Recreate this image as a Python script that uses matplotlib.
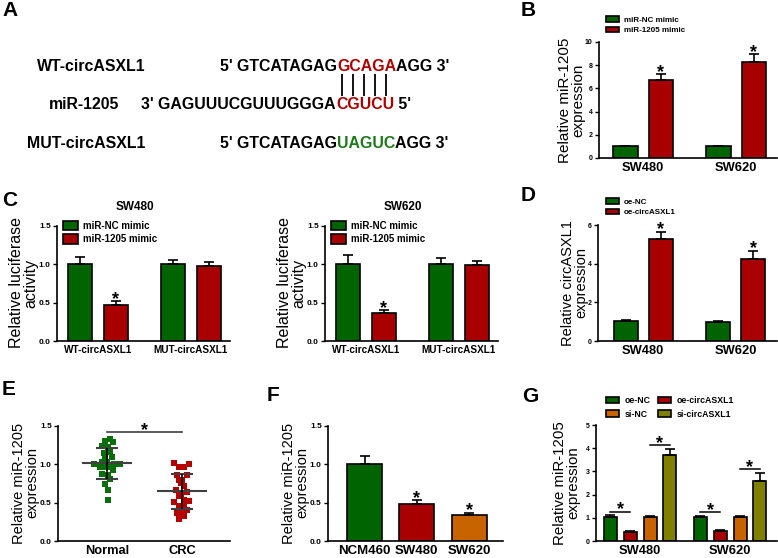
import numpy as np
import matplotlib
matplotlib.use("Agg")
import matplotlib.pyplot as plt
from matplotlib.ticker import FormatStrFormatter

plt.rcParams["font.family"] = ["Liberation Sans", "DejaVu Sans"]

# ---- data ----
b_groups = ["SW480", "SW620"]
b_nc = [1.0, 1.0]
b_nc_err = [0.06, 0.05]
b_mimic = [6.7, 8.3]
b_mimic_err = [0.52, 0.63]

c_groups = ["WT-circASXL1", "MUT-circASXL1"]
c480_nc = [1.0, 1.0]
c480_nc_err = [0.10, 0.06]
c480_mimic = [0.47, 0.98]
c480_mimic_err = [0.05, 0.05]
c620_nc = [1.0, 1.0]
c620_nc_err = [0.12, 0.08]
c620_mimic = [0.36, 0.99]
c620_mimic_err = [0.04, 0.05]

d_groups = ["SW480", "SW620"]
d_nc = [1.02, 1.0]
d_nc_err = [0.08, 0.05]
d_oe = [5.28, 4.24]
d_oe_err = [0.38, 0.43]

e_normal = [1.33, 1.31, 1.29, 1.24, 1.23, 1.15, 1.16, 1.09, 1.09, 1.01, 1.03, 1.03,
            1.01, 1.01, 0.97, 0.96, 0.97, 0.92, 0.88, 0.86, 0.81, 0.75, 0.66, 0.53]
e_normal_jitter = [0.04, -0.027, 0.076, -0.062, 0.01, -0.036, 0.04, 0.071, -0.018, -0.169,
                   -0.062, -0.004, 0.093, 0.173, -0.093, -0.018, 0.04, 0.076, -0.062, 0.01,
                   0.04, -0.027, 0.01, 0.01]
e_crc = [1.02, 0.97, 0.97, 1.01, 0.86, 0.80, 0.86, 0.79, 0.76, 0.72, 0.67, 0.64,
         0.59, 0.61, 0.51, 0.53, 0.52, 0.46, 0.46, 0.41, 0.37, 0.37, 0.33, 0.29]
e_crc_jitter = [-0.107, -0.04, 0.031, 0.098, -0.071, 0.0, 0.062, -0.036, -0.013, 0.027,
                -0.08, 0.062, -0.04, -0.013, -0.102, 0.027, 0.098, -0.036, 0.027, 0.062,
                -0.071, 0.0, 0.031, -0.04]

f_groups = ["NCM460", "SW480", "SW620"]
f_vals = [1.0, 0.48, 0.34]
f_err = [0.11, 0.05, 0.03]

g_groups = ["SW480", "SW620"]
g_oe_nc = [1.02, 1.02]
g_oe_nc_err = [0.08, 0.07]
g_oe_circ = [0.38, 0.45]
g_oe_circ_err = [0.05, 0.04]
g_si_nc = [1.02, 1.02]
g_si_nc_err = [0.05, 0.07]
g_si_circ = [3.7, 2.6]
g_si_circ_err = [0.28, 0.33]

GREEN = "#006400"
RED = "#a80000"
ORANGE = "#c86400"
OLIVE = "#7f7f00"

W, H = 778, 558
fig = plt.figure(figsize=(W / 100, H / 100), dpi=100)

ov = fig.add_axes([0, 0, 1, 1])
ov.set_xlim(0, W)
ov.set_ylim(H, 0)
ov.axis("off")


def px_axes(l, t, r, b):
    ax = fig.add_axes([l / W, 1 - b / H, (r - l) / W, (b - t) / H])
    ax.patch.set_alpha(0)
    return ax


def style(ax, ymax, step, fmt, fs):
    ax.set_ylim(0, ymax)
    ax.set_yticks(np.arange(0, ymax + step / 2, step))
    ax.yaxis.set_major_formatter(FormatStrFormatter(fmt))
    for s in ["top", "right"]:
        ax.spines[s].set_visible(False)
    for s in ["left", "bottom"]:
        ax.spines[s].set_linewidth(1.2)
    ax.tick_params(axis="y", length=3, width=1, labelsize=fs, pad=1.5)
    ax.tick_params(axis="x", length=0, pad=3)
    for t in ax.get_yticklabels():
        t.set_fontweight("bold")


ERR = dict(ecolor="black", elinewidth=1.2, capsize=3.5, capthick=1.2)


def bars(ax, x, vals, errs, color, label=None, width=0.26):
    ax.bar(x, vals, width, yerr=[np.zeros(len(vals)), errs], color=color,
           edgecolor="black", linewidth=1.2, error_kw=ERR, label=label)


def star(ax, x, y, fs=13):
    ax.annotate("*", xy=(x, y), xytext=(0, -2), textcoords="offset points",
                ha="center", va="baseline", fontsize=fs, fontweight="bold",
                annotation_clip=False)


def legend(ax, x, y, fs, hl, hh, ls, ncol=1):
    ax.legend(loc="upper left", bbox_to_anchor=(x / W, 1 - y / H),
              bbox_transform=fig.transFigure, frameon=False,
              prop=dict(weight="bold", size=fs), handlelength=hl, handleheight=hh,
              handletextpad=0.6, labelspacing=ls, borderpad=0, borderaxespad=0,
              ncol=ncol, columnspacing=1.0)


def ylabel(x, y, txt, fs):
    ov.text(x, y, txt, rotation=90, ha="center", va="center", fontsize=fs,
            linespacing=0.95, multialignment="center")


LET = dict(fontsize=15, fontweight="bold", va="top", ha="left")
for letter, lx, ly in [("A", 2, 1), ("B", 521, 1), ("C", 2, 191), ("D", 521, 186),
                       ("E", 2, 380), ("F", 267, 386), ("G", 522, 387)]:
    ov.text(lx, ly, letter, **LET)

# ---- A ----
fa = dict(fontsize=11.4, fontweight="bold", va="baseline")
ov.text(91, 71, "WT-circASXL1", ha="center", **fa)
ov.text(84, 109, "miR-1205", ha="center", **fa)
ov.text(86, 148, "MUT-circASXL1", ha="center", **fa)

ov.text(337, 71, "5' GTCATAGAG", ha="right", **fa)
t = ov.text(337, 71, "GCAGA", ha="left", color="#b00000", **fa)
ov.annotate("AGG 3'", xy=(1, 0), xycoords=t, ha="left", va="bottom",
            fontsize=11.4, fontweight="bold")

ov.text(336, 109, "3' GAGUUUCGUUUGGGA", ha="right", **fa)
t = ov.text(336, 109, "CGUCU", ha="left", color="#b00000", **fa)
ov.annotate(" 5'", xy=(1, 0), xycoords=t, ha="left", va="bottom",
            fontsize=11.4, fontweight="bold")

ov.text(337, 148, "5' GTCATAGAG", ha="right", **fa)
t = ov.text(337, 148, "UAGUC", ha="left", color="#1a7a1a", **fa)
ov.annotate("AGG 3'", xy=(1, 0), xycoords=t, ha="left", va="bottom",
            fontsize=11.4, fontweight="bold")

ov.vlines([342, 353, 364, 375, 386], 74, 96, color="black", lw=1.3)

# ---- B ----
axB = px_axes(599, 42, 777, 158)
xb = np.arange(len(b_groups))
bars(axB, xb - 0.19, b_nc, b_nc_err, GREEN, "miR-NC mimic")
bars(axB, xb + 0.19, b_mimic, b_mimic_err, RED, "miR-1205 mimic")
for i in range(len(xb)):
    star(axB, xb[i] + 0.19, b_mimic[i] + b_mimic_err[i])
axB.set_xlim(-0.475, 1.44)
style(axB, 10, 2, "%d", 5)
axB.set_xticks(xb, b_groups, fontsize=9.3, fontweight="bold")
legend(axB, 606, 16, 5.8, 1.6, 0.75, 0.35)
ylabel(572, 100, "Relative miR-1205\nexpression", 11)

# ---- C ----
for lft, title, nc, nce, mm, mme in [(57, "SW480", c480_nc, c480_nc_err, c480_mimic, c480_mimic_err),
                                      (325, "SW620", c620_nc, c620_nc_err, c620_mimic, c620_mimic_err)]:
    ax = px_axes(lft, 226, lft + 173, 341)
    xc = np.arange(len(c_groups))
    bars(ax, xc - 0.19, nc, nce, GREEN, "miR-NC mimic")
    bars(ax, xc + 0.19, mm, mme, RED, "miR-1205 mimic")
    star(ax, xc[0] + 0.19, mm[0] + mme[0])
    ax.set_xlim(-0.44, 1.42)
    style(ax, 1.5, 0.5, "%.1f", 6)
    ax.set_xticks(xc, c_groups, fontsize=7.2, fontweight="bold")
    legend(ax, lft + 6, 221, 7, 1.5, 1.1, 0.35)
    ov.text(lft + 78, 207, title, ha="center", va="center", fontsize=8.5, fontweight="bold")
    ylabel(lft - 33, 283, "Relative luciferase\nactivity", 11.5)

# ---- D ----
axD = px_axes(598, 225, 777, 341)
xd = np.arange(len(d_groups))
bars(axD, xd - 0.19, d_nc, d_nc_err, GREEN, "oe-NC")
bars(axD, xd + 0.19, d_oe, d_oe_err, RED, "oe-circASXL1")
for i in range(len(xd)):
    star(axD, xd[i] + 0.19, d_oe[i] + d_oe_err[i])
axD.set_xlim(-0.49, 1.45)
style(axD, 6, 2, "%d", 5)
axD.set_xticks(xd, d_groups, fontsize=9.3, fontweight="bold")
legend(axD, 606, 198, 5.8, 1.6, 0.75, 0.35)
ylabel(575, 283, "Relative circASXL1\nexpression", 10.5)

# ---- E ----
axE = px_axes(58, 426, 230, 541)
for xi, vals, jit, col in [(0, e_normal, e_normal_jitter, "#0a6e0a"),
                           (1, e_crc, e_crc_jitter, "#b40000")]:
    vals = np.array(vals)
    axE.scatter(xi + np.array(jit), vals, marker="s", s=13, color=col, linewidths=0, zorder=2)
    m, sd = vals.mean(), vals.std(ddof=1)
    axE.hlines(m, xi - 0.33, xi + 0.33, color="#404040", lw=1.5, zorder=3)
    axE.hlines([m - sd, m + sd], xi - 0.15, xi + 0.15, color="#404040", lw=1.5, zorder=3)
    axE.vlines(xi, m - sd, m + sd, color="black", lw=1.2, zorder=3)
axE.plot([0, 1], [1.42, 1.42], color="#404040", lw=1.2)
star(axE, 0.5, 1.42)
axE.set_xlim(-0.65, 1.64)
style(axE, 1.5, 0.5, "%.1f", 6)
axE.set_xticks([0, 1], ["Normal", "CRC"], fontsize=9.3, fontweight="bold")
ylabel(26, 483, "Relative miR-1205\nexpression", 10.5)

# ---- F ----
axF = px_axes(328, 426, 503, 541)
xf = np.arange(len(f_groups))
axF.bar(xf, f_vals, 0.67, yerr=[np.zeros(len(f_vals)), f_err], color=[GREEN, RED, ORANGE],
        edgecolor="black", linewidth=1.2, error_kw=ERR)
for i in range(1, len(xf)):
    star(axF, xf[i], f_vals[i] + f_err[i])
axF.set_xlim(-0.70, 2.65)
style(axF, 1.5, 0.5, "%.1f", 6)
axF.set_xticks(xf, f_groups, fontsize=9.5, fontweight="bold")
ylabel(296, 483, "Relative miR-1205\nexpression", 10.5)

# ---- G ----
axG = px_axes(596, 425, 777, 541)
xg = np.arange(len(g_groups))
offs = [-0.33, -0.11, 0.11, 0.33]
series = [(g_oe_nc, g_oe_nc_err, GREEN, "oe-NC"),
          (g_oe_circ, g_oe_circ_err, RED, "oe-circASXL1"),
          (g_si_nc, g_si_nc_err, ORANGE, "si-NC"),
          (g_si_circ, g_si_circ_err, OLIVE, "si-circASXL1")]
for (vals, errs, col, lab), o in zip(series, offs):
    bars(axG, xg + o, vals, errs, col, lab, width=0.145)
for i in range(len(xg)):
    for a, b in [(0, 1), (2, 3)]:
        top = max(series[a][0][i] + series[a][1][i], series[b][0][i] + series[b][1][i]) + 0.16
        axG.plot([xg[i] + offs[a], xg[i] + offs[b]], [top, top], color="black", lw=1.1)
        star(axG, xg[i] + (offs[a] + offs[b]) / 2, top)
axG.set_xlim(-0.49, 1.52)
style(axG, 5, 1, "%d", 5)
axG.set_xticks(xg, g_groups, fontsize=9.3, fontweight="bold")
h, l = axG.get_legend_handles_labels()
axG.legend([h[0], h[2], h[1], h[3]], [l[0], l[2], l[1], l[3]], ncol=2,
           loc="upper left", bbox_to_anchor=(606 / W, 1 - 396 / H),
           bbox_transform=fig.transFigure, frameon=False,
           prop=dict(weight="bold", size=6.3), handlelength=1.5, handleheight=0.8,
           handletextpad=0.6, labelspacing=0.55, borderpad=0, borderaxespad=0,
           columnspacing=0.9)
ylabel(567, 483, "Relative miR-1205\nexpression", 10.8)

fig.savefig("out.png", dpi=100)
